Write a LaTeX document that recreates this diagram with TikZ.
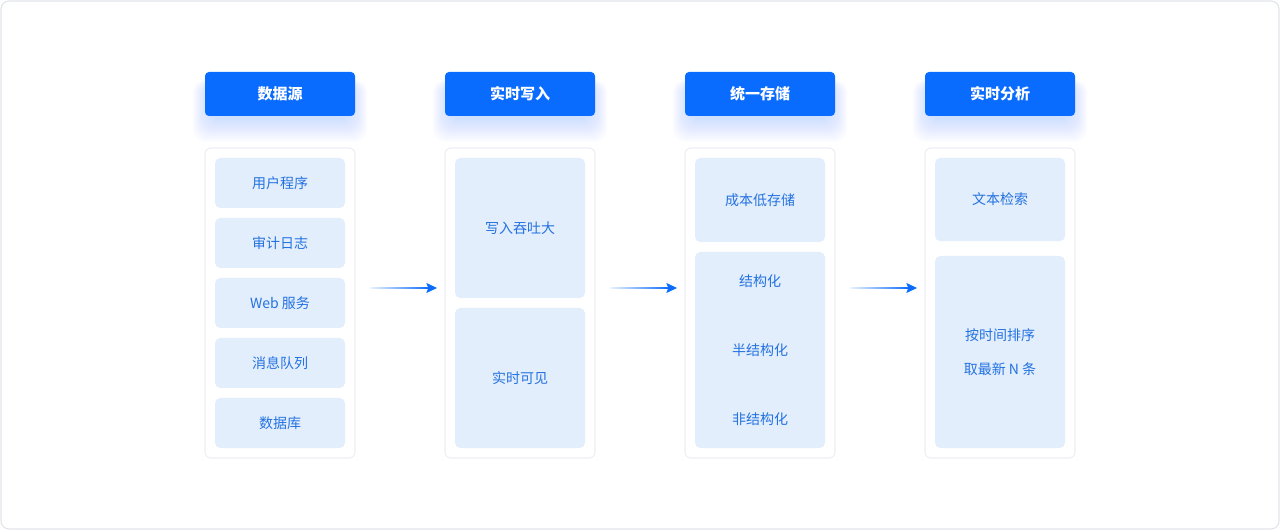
\documentclass[tikz,border=0pt]{standalone}
\usepackage{fontspec}
\setmainfont{Noto Sans CJK SC}
\usetikzlibrary{arrows.meta}
\definecolor{hdr}{HTML}{0A6CFF}
\definecolor{cellbg}{HTML}{E3EEFD}
\definecolor{celltx}{HTML}{2372E0}
\definecolor{framec}{HTML}{E1E4E9}
\definecolor{cbord}{HTML}{ECEFF4}
\tikzset{
  header/.style={rectangle, rounded corners=3pt, fill=hdr, text=white,
    font=\fontsize{11.25}{13}\selectfont\bfseries, minimum width=112.5pt,
    minimum height=33pt, inner sep=0pt},
  column/.style={rectangle, rounded corners=4.5pt, draw=cbord, line width=0.8pt,
    fill=white, minimum width=112.5pt, minimum height=232.5pt, inner sep=0pt},
  cell/.style={rectangle, rounded corners=4pt, fill=cellbg, text=celltx,
    font=\fontsize{10.5}{12}\selectfont, minimum width=97.5pt, inner sep=0pt, align=center},
  label/.style={text=celltx, font=\fontsize{10.5}{12}\selectfont, inner sep=0pt},
  flowline/.style={left color=hdr!8, right color=hdr},
  tip/.style={draw=hdr, line width=0.6pt, -{Stealth[length=8pt,width=7.5pt,inset=1.5pt]}},
}
\begin{document}
\begin{tikzpicture}[x=0.75pt,y=-0.75pt]
\useasboundingbox (0,0) rectangle (1280,530);
\fill[white] (0,0) rectangle (1280,530);
\draw[framec, line width=0.8pt, rounded corners=6pt] (1,1) rectangle (1279,529);

% header shadows
\foreach \c in {280,520,760,1000}{
  \foreach \r in {0,2,...,22}{
    \fill[hdr, opacity=0.014, rounded corners=10pt] (\c-72-\r*0.7, 84-\r*0.2) rectangle (\c+72+\r*0.7, 120+\r);
  }
}

% headers
\node[header] (h1) at (280,94) {数据源};
\node[header] (h2) at (520,94) {实时写入};
\node[header] (h3) at (760,94) {统一存储};
\node[header] (h4) at (1000,94) {实时分析};

% columns
\node[column] (c1) at (280,303) {};
\node[column] (c2) at (520,303) {};
\node[column] (c3) at (760,303) {};
\node[column] (c4) at (1000,303) {};

% column 1
\node[cell, minimum height=37.5pt] (s1) at (280,183) {用户程序};
\node[cell, minimum height=37.5pt] (s2) at (280,243) {审计日志};
\node[cell, minimum height=37.5pt] (s3) at (280,303) {Web 服务};
\node[cell, minimum height=37.5pt] (s4) at (280,363) {消息队列};
\node[cell, minimum height=37.5pt] (s5) at (280,423) {数据库};

% column 2
\node[cell, minimum height=105pt] (w1) at (520,228) {写入吞吐大};
\node[cell, minimum height=105pt] (w2) at (520,378) {实时可见};

% column 3
\node[cell, minimum height=63pt] (t1) at (760,200) {成本低存储};
\node[cell, minimum height=147pt] (t2) at (760,350) {};
\node[label] (t2a) at (760,281) {结构化};
\node[label] (t2b) at (760,350) {半结构化};
\node[label] (t2c) at (760,419) {非结构化};

% column 4
\node[cell, minimum height=62.5pt] (a1) at (1000,199.5) {文本检索};
\node[cell, minimum height=144pt, font=\fontsize{10.5}{25.5}\selectfont] (a2) at (1000,352) {按时间排序\\取最新 N 条};

% arrows
\foreach \i/\x in {1/370,2/610,3/850}{
  \coordinate (as\i) at (\x,288);
  \coordinate (ae\i) at (\x+67,288);
  \shade[flowline] ([yshift=0.55pt]as\i) rectangle ([xshift=-6pt,yshift=-0.55pt]ae\i);
  \draw[tip] ([xshift=-8pt]ae\i) -- (ae\i);
}
\end{tikzpicture}
\end{document}
